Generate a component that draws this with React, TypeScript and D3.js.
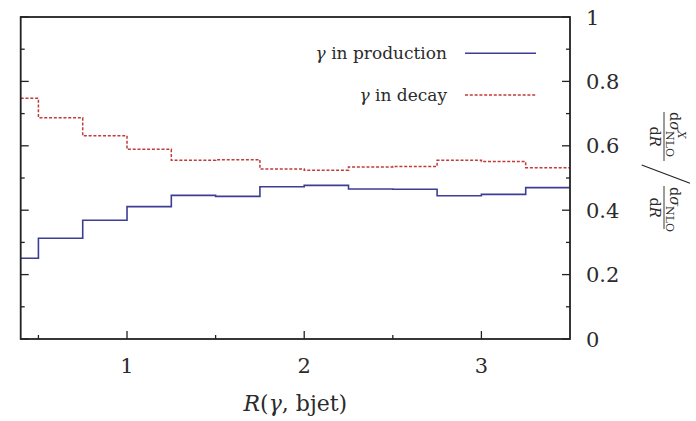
import React from "react";
import * as d3 from "d3";

const binEdges = [0.4, 0.5, 0.75, 1, 1.25, 1.5, 1.75, 2, 2.25, 2.5, 2.75, 3, 3.25, 3.5];
const production = [0.251, 0.313, 0.369, 0.411, 0.446, 0.443, 0.473, 0.477, 0.466, 0.465, 0.445, 0.449, 0.47];
const decay = [0.748, 0.687, 0.631, 0.589, 0.555, 0.557, 0.528, 0.524, 0.534, 0.536, 0.555, 0.551, 0.532];
const yMajorTicks = [0, 0.2, 0.4, 0.6, 0.8, 1];
const yTickLabels = ["0", "0.2", "0.4", "0.6", "0.8", "1"];
const yMinorTicks = [0.1, 0.3, 0.5, 0.7, 0.9];
const xMajorTicks = [1, 2, 3];
const xTickLabels = ["1", "2", "3"];
const xMinorTicks = [0.5, 1.5, 2.5];
const seriesNames = ["production", "decay"];

const W = 696;
const H = 421;
const FONT = "'DejaVu Serif'";

export default function App() {
  const x = d3.scaleLinear().domain([0.4, 3.5]).range([20.7, 570]);
  const y = d3.scaleLinear().domain([0, 1]).range([339, 17]);

  const stepPts = (vals: number[]) => {
    const pts: [number, number][] = vals.map((v, i) => [binEdges[i], v]);
    pts.push([binEdges[binEdges.length - 1], vals[vals.length - 1]]);
    return pts;
  };
  const line = d3
    .line<[number, number]>()
    .x((d) => x(d[0]))
    .y((d) => y(d[1]))
    .curve(d3.curveStepAfter);

  const blue = "#3d3d96";
  const red = "#c23a3a";
  const axisColor = "#222";
  const textColor = "#2b2b2b";
  const ts = { fontFamily: FONT } as React.CSSProperties;

  const [x0, x1] = x.range();
  const [yb, yt] = y.range();

  return (
    <svg
      width={W}
      height={H}
      style={{ position: "absolute", left: 0, top: 0, display: "block", background: "#fff", fontFamily: FONT }}
    >
      {/* series */}
      <path d={line(stepPts(production)) || ""} fill="none" stroke={blue} strokeWidth={1.6} />
      <path
        d={line(stepPts(decay)) || ""}
        fill="none"
        stroke={red}
        strokeWidth={1.5}
        strokeDasharray="3,1.8"
      />

      {/* frame */}
      <rect x={x0} y={yt} width={x1 - x0} height={yb - yt} fill="none" stroke={axisColor} strokeWidth={1.8} />

      {/* y ticks (left and right, inward) */}
      {yMajorTicks.map((t) => (
        <g key={"ym" + t}>
          <line x1={x0} x2={x0 + 8} y1={y(t)} y2={y(t)} stroke={axisColor} strokeWidth={1.3} />
          <line x1={x1} x2={x1 - 8} y1={y(t)} y2={y(t)} stroke={axisColor} strokeWidth={1.3} />
        </g>
      ))}
      {yMinorTicks.map((t) => (
        <g key={"yn" + t}>
          <line x1={x0} x2={x0 + 4} y1={y(t)} y2={y(t)} stroke={axisColor} strokeWidth={1.3} />
          <line x1={x1} x2={x1 - 4} y1={y(t)} y2={y(t)} stroke={axisColor} strokeWidth={1.3} />
        </g>
      ))}
      {/* x ticks */}
      {xMajorTicks.map((t) => (
        <line key={"xm" + t} x1={x(t)} x2={x(t)} y1={yb} y2={yb - 8} stroke={axisColor} strokeWidth={1.3} />
      ))}
      {xMinorTicks.map((t) => (
        <line key={"xn" + t} x1={x(t)} x2={x(t)} y1={yb} y2={yb - 4} stroke={axisColor} strokeWidth={1.3} />
      ))}

      {/* y tick labels on right */}
      {yMajorTicks.map((t, i) => (
        <text key={"yl" + t} x={586} y={y(t) + 7.5} fontSize={21} fill={textColor} style={ts}>
          {yTickLabels[i]}
        </text>
      ))}
      {/* x tick labels */}
      {xMajorTicks.map((t, i) => (
        <text key={"xl" + t} x={x(t)} y={373} fontSize={21} fill={textColor} textAnchor="middle" style={ts}>
          {xTickLabels[i]}
        </text>
      ))}

      {/* x axis title */}
      <text x={(x0 + x1) / 2} y={411} fontSize={22} fill={textColor} textAnchor="middle" style={ts}>
        <tspan fontStyle="italic">R</tspan>
        <tspan>(</tspan>
        <tspan fontStyle="italic">γ</tspan>
        <tspan>, bjet)</tspan>
      </text>

      {/* legend */}
      <text x={447} y={59} fontSize={17} fill={textColor} textAnchor="end" style={ts}>
        <tspan fontStyle="italic">γ</tspan>
        <tspan> in {seriesNames[0]}</tspan>
      </text>
      <line x1={465} x2={536} y1={53.3} y2={53.3} stroke={blue} strokeWidth={1.6} />
      <text x={447} y={101} fontSize={17} fill={textColor} textAnchor="end" style={ts}>
        <tspan fontStyle="italic">γ</tspan>
        <tspan> in {seriesNames[1]}</tspan>
      </text>
      <line x1={465} x2={536} y1={95} y2={95} stroke={red} strokeWidth={1.5} strokeDasharray="3,1.8" />

      {/* rotated y axis label: (dσ^X_NLO/dR) / (dσ_NLO/dR) */}
      <g transform="translate(664,170) rotate(90)" fill={textColor} style={ts}>
        {/* fraction 1 */}
        <line x1={-58} x2={-9} y1={0} y2={0} stroke="#222" strokeWidth={0.9} />
        <text x={-58} y={-6} fontSize={14.5} style={ts}>
          <tspan>d</tspan>
          <tspan fontStyle="italic">σ</tspan>
        </text>
        <text x={-39} y={-13.5} fontSize={10.5} fontStyle="italic" style={ts}>X</text>
        <text x={-39} y={-2} fontSize={11} style={ts}>NLO</text>
        <text x={-33.5} y={14.5} fontSize={14.5} textAnchor="middle" style={ts}>
          <tspan>d</tspan>
          <tspan fontStyle="italic">R</tspan>
        </text>
        {/* fraction 2 */}
        <line x1={16} x2={59} y1={0} y2={0} stroke="#222" strokeWidth={0.9} />
        <text x={17} y={-6} fontSize={14.5} style={ts}>
          <tspan>d</tspan>
          <tspan fontStyle="italic">σ</tspan>
        </text>
        <text x={36} y={-2} fontSize={11} style={ts}>NLO</text>
        <text x={37.5} y={14.5} fontSize={14.5} textAnchor="middle" style={ts}>
          <tspan>d</tspan>
          <tspan fontStyle="italic">R</tspan>
        </text>
      </g>
      <line x1={641.7} y1={165} x2={690} y2={183.3} stroke="#222" strokeWidth={1.1} />
    </svg>
  );
}
